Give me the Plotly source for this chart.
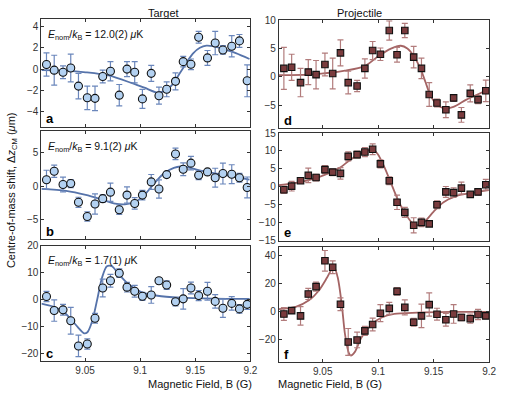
import plotly.graph_objects as go

# ---------------- data ----------------
field_B = [9.015, 9.022, 9.030, 9.037, 9.044, 9.052, 9.059, 9.066, 9.073, 9.081,
           9.088, 9.095, 9.102, 9.110, 9.117, 9.124, 9.132, 9.139, 9.146, 9.153,
           9.161, 9.168, 9.175, 9.183, 9.190, 9.197]

# Target (a, b, c)
a_y = [0.43, -0.1, -0.3, 0.1, -1.6, -2.7, -2.75, -0.7, -0.2, -2.45, 0.0, -0.3, -2.8,
       -0.4, -2.5, -1.9, -1.15, 0.7, 0.45, 3.0, 1.05, 2.45, 1.8, 2.15, 2.65, -1.1]
a_err = [1.1, 1.4, 0.6, 1.3, 1.2, 1.1, 1.15, 0.6, 0.9, 1.0, 0.7, 1.0, 0.9,
         0.75, 0.8, 0.7, 0.8, 0.5, 0.5, 0.55, 0.7, 1.1, 0.4, 1.0, 0.6, 1.5]
b_y = [0.95, 2.2, 0.24, 0.38, -2.4, -4.5, -2.65, -1.86, -0.9, -3.5, -1.33, -2.57, -1.33,
       0.62, -0.43, 1.7, 4.76, 2.5, 3.4, 1.6, 2.1, 1.24, 1.86, 1.76, 1.24, -0.2]
b_err = [1.4, 0.9, 1.1, 0.6, 0.75, 0.7, 1.5, 0.55, 1.35, 0.7, 1.2, 0.85, 0.7,
         1.1, 1.35, 0.35, 0.85, 0.95, 1.0, 0.65, 0.3, 1.4, 1.55, 1.4, 0.65, 1.55]
c_y = [1.1, -4.1, -3.85, -7.9, -17.3, -16.6, -7.0, 4.3, 7.0, 9.8, 4.6, 3.1, 1.2,
       1.7, 7.0, 5.4, -0.85, 0.25, 4.3, 1.45, 3.1, -0.7, -3.25, -1.45, -3.5, -1.8]
c_err = [1.9, 4.0, 2.0, 5.0, 4.0, 1.9, 1.8, 3.3, 2.4, 1.6, 1.8, 2.2, 1.5,
         3.1, 1.2, 1.6, 1.55, 3.8, 2.2, 1.9, 3.3, 2.5, 3.4, 2.5, 1.6, 1.9]

# Projectile (d, e, f)
d_y = [1.5, 1.7, -1.0, 0.85, 0.4, 2.2, 0.6, 4.25, -1.0, -1.6, 1.5, 4.65, 4.0,
       8.2, 3.9, 8.2, 3.5, 1.5, -3.1, -4.6, -5.8, -3.7, -6.7, -2.9, -4.0, -2.45]
d_err = [3.7, 2.3, 2.5, 2.2, 2.5, 2.0, 2.7, 2.3, 2.0, 1.0, 1.7, 1.6, 1.1,
         1.7, 1.3, 1.25, 1.9, 1.8, 2.1, 0.7, 1.4, 0.6, 1.3, 1.5, 0.7, 1.9]
e_y = [-0.8, 0.2, 1.7, 3.2, 2.6, 4.8, 4.1, 3.75, 8.5, 9.0, 9.7, 10.5, 6.4,
       1.7, -4.3, -7.1, -10.7, -9.9, -10.3, -5.0, -1.4, -1.6, -0.35, -2.1, -1.4, 0.6]
e_err = [1.0, 1.35, 0.5, 2.0, 0.9, 1.1, 0.95, 1.6, 1.25, 1.0, 1.25, 1.5, 1.1,
         1.1, 2.0, 1.4, 2.1, 1.2, 0.3, 1.1, 1.5, 1.3, 1.65, 0.55, 0.9, 1.5]
f_y = [-1.6, 0.7, -3.0, 12.5, 17.7, 35.9, 31.4, 5.2, -21.4, -20.0, -13.6, -9.1, -1.1,
       2.3, 14.3, 3.0, -7.5, -3.0, 5.0, -1.8, -5.7, -1.6, -4.1, -5.0, -2.0, -3.0]
f_err = [4.5, 1.7, 6.5, 3.9, 3.2, 7.3, 4.5, 4.5, 9.5, 5.5, 3.2, 4.5, 6.0,
         4.2, 2.7, 5.3, 2.8, 8.3, 8.2, 4.2, 4.5, 6.6, 2.3, 3.2, 3.6, 1.8]

# Fit curves (sampled from the figure)
a_fit_x = [9.0104, 9.0328, 9.0506, 9.0713, 9.0920, 9.1038, 9.1157, 9.1231, 9.1305, 9.1349,
           9.1393, 9.1438, 9.1482, 9.1541, 9.1600, 9.1660, 9.1749, 9.1867, 9.1991]
a_fit_y = [-0.1, -0.15, -0.3, -0.6, -1.3, -1.75, -2.2, -2.0, -1.3, -0.55,
           0.15, 0.9, 1.5, 2.0, 2.2, 2.15, 1.9, 1.5, 0.95]
b_fit_x = [9.0104, 9.0328, 9.0506, 9.0654, 9.0772, 9.0861, 9.0950, 9.1038, 9.1127, 9.1216,
           9.1305, 9.1364, 9.1453, 9.1571, 9.1749, 9.1991]
b_fit_y = [-0.4, -0.7, -1.3, -2.0, -2.6, -2.7, -2.4, -1.3, 0.4, 1.9,
           2.7, 2.9, 2.7, 2.2, 1.7, 0.95]
c_fit_x = [9.0104, 9.0210, 9.0299, 9.0373, 9.0432, 9.0491, 9.0521, 9.0565, 9.0609, 9.0654,
           9.0698, 9.0743, 9.0802, 9.0891, 9.1009, 9.1157, 9.1364, 9.1660, 9.1991]
c_fit_y = [-1.5, -2.6, -4.4, -7.4, -10.2, -12.6, -12.2, -8.0, -0.2, 8.2,
           12.4, 12.4, 9.6, 5.8, 2.8, 1.4, 0.7, 0.35, 0.25]
d_fit_x = [9.0104, 9.0405, 9.0701, 9.0879, 9.0997, 9.1115, 9.1204, 9.1263, 9.1323, 9.1382,
           9.1426, 9.1470, 9.1530, 9.1604, 9.1678, 9.1796, 9.1885, 9.1997]
d_fit_y = [0.3, 0.45, 1.1, 1.9, 3.6, 5.0, 5.5, 5.0, 3.6, 1.4,
           -0.9, -3.2, -4.9, -5.6, -5.3, -4.0, -3.2, -2.2]
e_fit_x = [9.0104, 9.0287, 9.0464, 9.0642, 9.0760, 9.0879, 9.0953, 9.0997, 9.1056, 9.1115,
           9.1175, 9.1234, 9.1308, 9.1352, 9.1411, 9.1500, 9.1589, 9.1707, 9.1825, 9.1997]
e_fit_y = [0.45, 1.25, 2.7, 5.1, 7.8, 9.8, 10.4, 9.1, 5.5, 1.1,
           -3.4, -6.9, -10.1, -10.7, -9.9, -6.9, -4.3, -2.5, -1.8, -0.9]
f_fit_x = [9.0104, 9.0257, 9.0376, 9.0464, 9.0538, 9.0583, 9.0607, 9.0636, 9.0672, 9.0701,
           9.0737, 9.0754, 9.0790, 9.0849, 9.0938, 9.1027, 9.1145, 9.1352, 9.1648, 9.1997]
f_fit_y = [1.8, 3.4, 8.0, 14.8, 23.9, 30.0, 30.7, 23.9, 5.0, -16.0,
           -29.5, -31.0, -28.4, -18.2, -9.1, -4.3, -1.6, -0.7, -0.2, -0.2]

energy_labels = ["12.0(2)", "9.1(2)", "1.7(1)"]
panel_letters = ["a", "b", "c", "d", "e", "f"]
x_ticks = [9.05, 9.1, 9.15, 9.2]
x_tick_text = ["9.05", "9.1", "9.15", "9.2"]
y_ticks = [[-4, -2, 0, 2, 4], [-5, 0, 5], [-20, -10, 0, 10, 20],
           [-5, 0, 5, 10], [-15, -10, -5, 0, 5, 10, 15], [-20, 0, 20, 40]]
y_ranges = [[-5.4, 4.7], [-7.9, 8.1], [-22.9, 20.0],
            [-9.0, 10.0], [-15.0, 15.0], [-35.5, 46.0]]

# ---------------- layout geometry (pixels) ----------------
W, H = 505, 398
left_x = (42, 254)
right_x = (282.7, 496)
left_rows = [(13.5, 124.3), (129.3, 240.7), (247.3, 366)]
right_rows = [(14.7, 125.7), (131.0, 242.0), (248.0, 367)]

def px(x):
    return x / W

def py(y):
    return 1 - y / H

blue_line = "#5673AA"
blue_fill = "#B3D1F1"
blue_err = "#6B87BC"
red_line = "#A46464"
red_fill = "#7A3B3D"
red_err = "#B27C7C"
axis_col = "#333333"
font_fam = "Liberation Sans, Arial, Helvetica, sans-serif"

fig = go.Figure()

ys = [a_y, b_y, c_y, d_y, e_y, f_y]
errs = [a_err, b_err, c_err, d_err, e_err, f_err]
fxs = [a_fit_x, b_fit_x, c_fit_x, d_fit_x, e_fit_x, f_fit_x]
fys = [a_fit_y, b_fit_y, c_fit_y, d_fit_y, e_fit_y, f_fit_y]

for i in range(6):
    n = i + 1
    xa = "x" if n == 1 else f"x{n}"
    ya = "y" if n == 1 else f"y{n}"
    target = i < 3
    lc = blue_line if target else red_line
    fig.add_trace(go.Scatter(
        x=fxs[i], y=fys[i], mode="lines", xaxis=xa, yaxis=ya,
        line=dict(color=lc, width=1.8, shape="spline", smoothing=0.8),
        showlegend=False, hoverinfo="skip"))
    fig.add_trace(go.Scatter(
        x=field_B, y=ys[i], mode="markers", xaxis=xa, yaxis=ya,
        error_y=dict(type="data", array=errs[i], visible=True,
                     color=blue_err if target else red_err, thickness=1.2, width=3),
        marker=dict(symbol="circle" if target else "square",
                    size=8 if target else 6.5,
                    color=blue_fill if target else red_fill,
                    line=dict(color="#111111", width=1.1)),
        showlegend=False))

layout = dict(
    width=W, height=H,
    margin=dict(l=0, r=0, t=0, b=0),
    paper_bgcolor="white", plot_bgcolor="white",
    font=dict(family=font_fam, size=10, color=axis_col),
)

for i in range(6):
    n = i + 1
    target = i < 3
    row = i % 3
    xdom = left_x if target else right_x
    ydom = (left_rows if target else right_rows)[row]
    xkey = "xaxis" if n == 1 else f"xaxis{n}"
    ykey = "yaxis" if n == 1 else f"yaxis{n}"
    ya = "y" if n == 1 else f"y{n}"
    xa = "x" if n == 1 else f"x{n}"
    layout[xkey] = dict(
        domain=[px(xdom[0]), px(xdom[1])], anchor=ya,
        range=[9.0104, 9.2], tickvals=x_ticks, ticktext=x_tick_text,
        showticklabels=(row == 2), ticks="inside", ticklen=3, tickwidth=1,
        tickcolor=axis_col, showline=True, linecolor=axis_col, linewidth=1,
        mirror="ticks", showgrid=False, zeroline=False,
        tickfont=dict(size=10, color=axis_col))
    layout[ykey] = dict(
        domain=[py(ydom[1]), py(ydom[0])], anchor=xa,
        range=y_ranges[i], tickvals=y_ticks[i],
        ticks="inside", ticklen=3, tickwidth=1, tickcolor=axis_col,
        showline=True, linecolor=axis_col, linewidth=1, mirror="ticks",
        showgrid=False, zeroline=False, tickfont=dict(size=10, color=axis_col))

fig.update_layout(**layout)

ann = []
# panel titles
ann.append(dict(text="Target", x=px(148), y=py(7), xref="paper", yref="paper",
                yanchor="middle", showarrow=False, font=dict(size=11, color="#111111")))
ann.append(dict(text="Projectile", x=px(389), y=py(7), xref="paper", yref="paper",
                yanchor="middle", showarrow=False, font=dict(size=11, color="#111111")))
# x axis titles
for cx in (148, 389):
    ann.append(dict(text="Magnetic Field, B (G)", x=px(cx), y=py(390), xref="paper",
                    yref="paper", yanchor="middle", showarrow=False,
                    font=dict(size=11, color="#111111")))
# y axis title
ann.append(dict(text="Centre-of-mass shift, Δ<i>z</i><sub>CM</sub> (<i>μ</i>m)",
                x=px(12), y=py(190), xref="paper", yref="paper", textangle=-90,
                xanchor="center", yanchor="middle",
                showarrow=False, font=dict(size=11, color="#111111")))
# energy labels
for row, lab in enumerate(energy_labels):
    ytop = left_rows[row][0]
    ann.append(dict(text=f"<i>E</i><sub>nom</sub>/<i>k</i><sub>B</sub> = {lab} <i>μ</i>K",
                    x=px(47), y=py(ytop + 16), xref="paper", yref="paper",
                    xanchor="left", yanchor="middle", showarrow=False,
                    font=dict(size=10.5, color="#111111")))
# panel letters
for i, letter in enumerate(panel_letters):
    target = i < 3
    row = i % 3
    xl = 45 if target else 286
    ybot = (left_rows if target else right_rows)[row][1]
    ann.append(dict(text=f"<b>{letter}</b>", x=px(xl), y=py(ybot - 8), xref="paper",
                    yref="paper", xanchor="left", yanchor="middle", showarrow=False,
                    font=dict(size=13, color="#000000")))
fig.update_layout(annotations=ann)

fig.write_html("out.html", config={"displayModeBar": False},
               post_script="document.body.style.margin='0';")
